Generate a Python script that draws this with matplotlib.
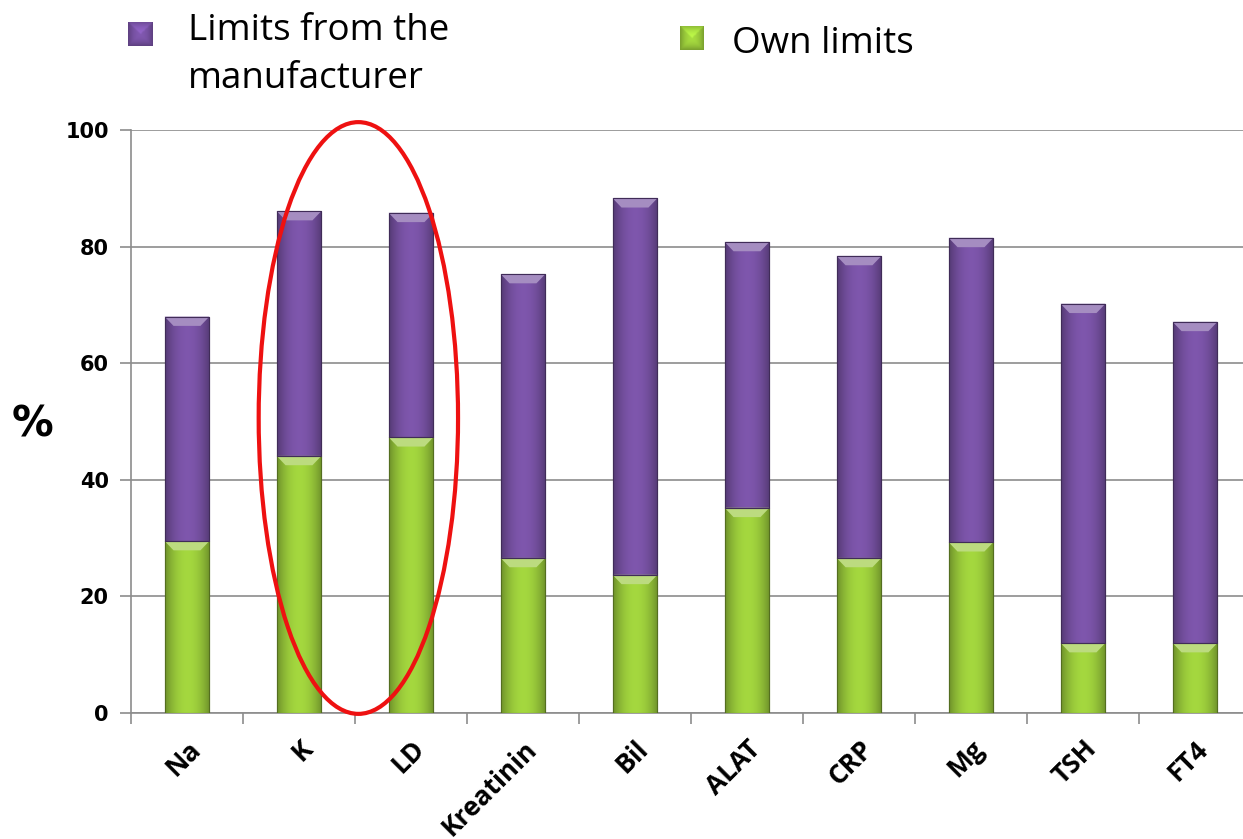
import matplotlib
matplotlib.use("Agg")
import matplotlib.pyplot as plt
import numpy as np
from matplotlib.patches import Ellipse, Polygon
from matplotlib.colors import to_rgb

categories = ["Na", "K", "LD", "Kreatinin", "Bil", "ALAT", "CRP", "Mg", "TSH", "FT4"]
own_limits = [29.5, 44.1, 47.3, 26.6, 23.7, 35.2, 26.6, 29.3, 12.0, 12.0]
total = [68.0, 86.1, 85.8, 75.3, 88.3, 80.8, 78.4, 81.5, 70.2, 67.1]
manufacturer = [t - o for t, o in zip(total, own_limits)]
series_names = ["Limits from the\nmanufacturer", "Own limits"]
yticks = [0, 20, 40, 60, 80, 100]

PURPLE = "#7550A0"
GREEN = "#98C83A"

W, H = 1243, 839
fig = plt.figure(figsize=(W / 100, H / 100), dpi=100)
ax_left, ax_bottom = 131 / W, 1 - 713 / H
ax_w = 1120 / W
ax_h = (713 - 130) / H
ax = fig.add_axes([ax_left, ax_bottom, ax_w, ax_h])

x = np.arange(len(categories))
bw = 0.40


def shade(color, f):
    c = np.array(to_rgb(color))
    if f >= 1:
        return tuple(c + (1 - c) * (f - 1))
    return tuple(c * f)


def fancy_bars(xs, heights, bottoms, color):
    bars = ax.bar(xs, heights, bw, bottom=bottoms, color=color,
                  edgecolor=shade(color, 0.6), linewidth=0.8, zorder=3)
    prof = np.linspace(-1, 1, 64)
    fac = 1.08 - 0.35 * prof ** 2
    c = np.array(to_rgb(color))
    img = np.clip(np.outer(np.ones(2), fac)[:, :, None] * c[None, None, :], 0, 1)
    for b in bars:
        x0, y0 = b.get_x(), b.get_y()
        w, h = b.get_width(), b.get_height()
        im = ax.imshow(img, extent=[x0, x0 + w, y0, y0 + h], aspect="auto",
                       zorder=3.5, interpolation="bicubic")
        im.set_clip_path(b)
        bev = min(1.6, h * 0.3)
        poly = Polygon([[x0, y0 + h], [x0 + w, y0 + h],
                        [x0 + w * 0.8, y0 + h - bev], [x0 + w * 0.2, y0 + h - bev]],
                       closed=True, facecolor=shade(color, 1.35), edgecolor="none",
                       zorder=3.6)
        ax.add_patch(poly)
        ax.bar([x0 + w / 2], [h], w, bottom=[y0], facecolor="none",
               edgecolor=shade(color, 0.55), linewidth=0.8, zorder=3.7)
    return bars


fancy_bars(x, own_limits, [0] * len(x), GREEN)
fancy_bars(x, manufacturer, own_limits, PURPLE)

ax.set_xlim(-0.5, len(categories) - 0.5)
ax.set_ylim(0, 100)
ax.set_yticks(yticks)
ax.set_yticklabels([str(t) for t in yticks], fontweight="bold", fontsize=15,
                   family="DejaVu Sans")
ax.grid(axis="y", color="#8c8c8c", linewidth=1.2, zorder=0)
ax.set_axisbelow(True)

ax.set_xticks(x)
ax.set_xticklabels(categories, rotation=45, ha="right", va="top",
                   rotation_mode="anchor", fontweight="bold", fontsize=19,
                   family="Open Sans")
ax.tick_params(axis="x", length=0, pad=16)
ax.set_xticks(np.arange(-0.5, len(categories), 1), minor=True)
ax.tick_params(axis="x", which="minor", length=8, color="#8c8c8c", width=1.2)
ax.tick_params(axis="y", length=8, color="#8c8c8c", width=1.2, pad=8)

for s in ["top", "right"]:
    ax.spines[s].set_visible(False)
for s in ["left", "bottom"]:
    ax.spines[s].set_color("#8c8c8c")
    ax.spines[s].set_linewidth(1.2)

ax.set_ylabel("%", rotation=0, fontsize=30, fontweight="bold",
              family="DejaVu Sans", labelpad=0, va="center", ha="center")
ax.yaxis.set_label_coords(-0.088, 0.494)

ell = Ellipse((1.53, 50.6), 1.78, 101.5, fill=False, edgecolor="#ee1111",
              linewidth=3, zorder=6, clip_on=False)
ax.add_patch(ell)


def legend_square(px, py, color):
    s = 24
    a = fig.add_axes([(px - s / 2) / W, 1 - (py + s / 2) / H, s / W, s / H])
    a.set_axis_off()
    c = np.array(to_rgb(color))
    yy, xx = np.mgrid[-1:1:40j, -1:1:40j]
    fac = 1.1 - 0.3 * np.maximum(np.abs(xx), np.abs(yy)) ** 2 + 0.15 * (yy < 0) * (np.abs(xx) < -yy)
    img = np.clip(fac[:, :, None] * c[None, None, :], 0, 1)
    a.imshow(img, extent=[0, 1, 0, 1], interpolation="bicubic", aspect="auto")


legend_square(140, 34, PURPLE)
for i, line in enumerate(series_names[0].split("\n")):
    fig.text(188 / W, 1 - (40 + 48 * i) / H, line, fontsize=26.5, va="baseline",
             ha="left", family="Open Sans")
legend_square(692, 38, GREEN)
fig.text(732 / W, 1 - 53 / H, series_names[1], fontsize=26.5, va="baseline",
         ha="left", family="Open Sans")

fig.savefig("out.png", dpi=100)
